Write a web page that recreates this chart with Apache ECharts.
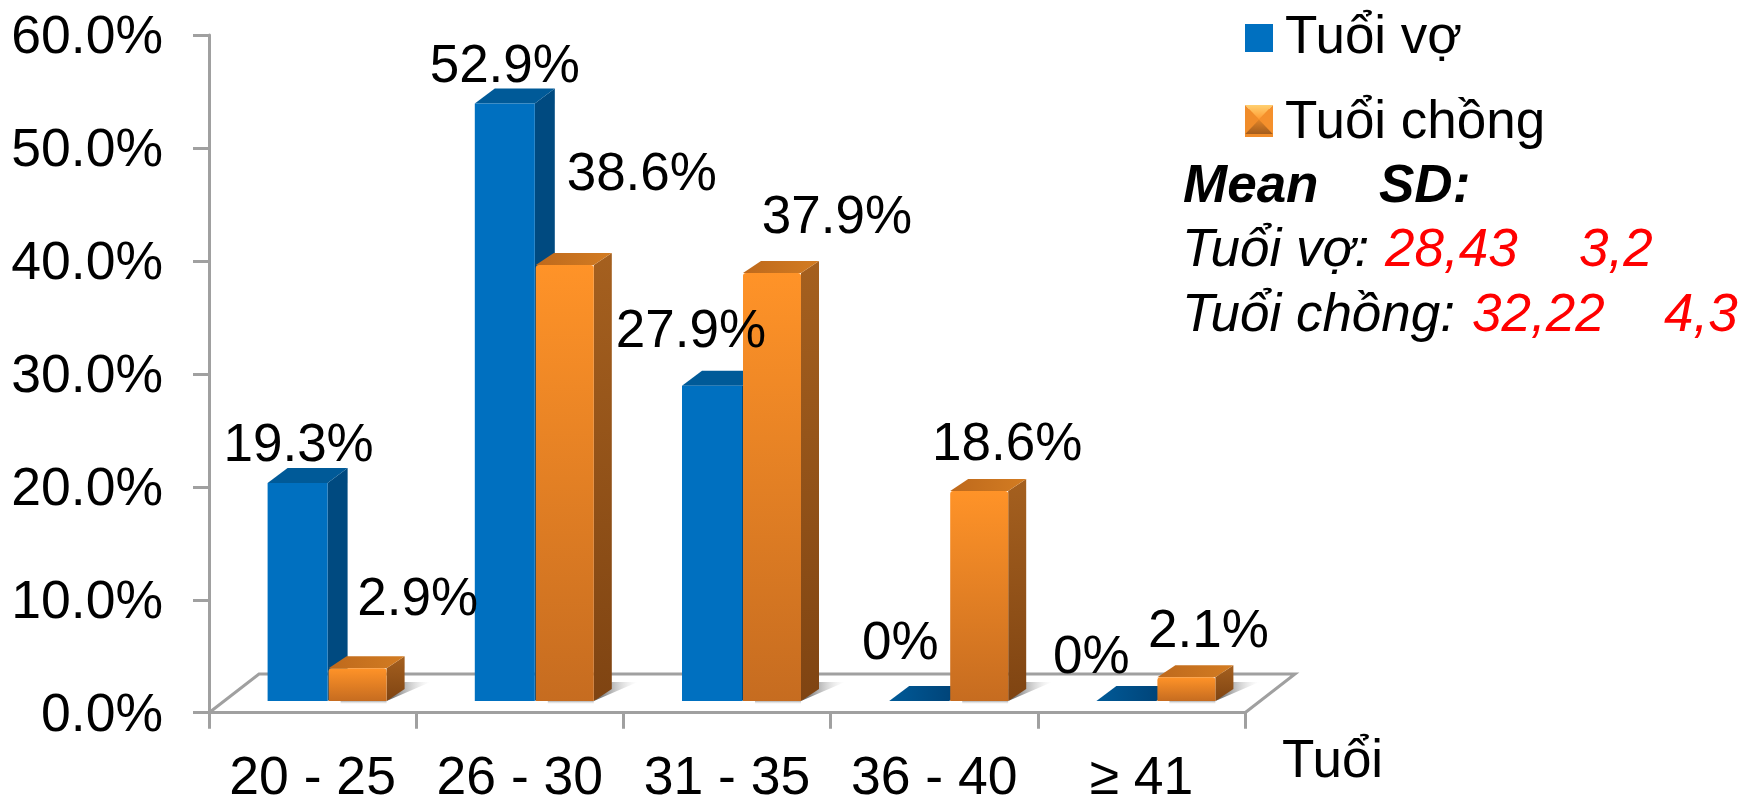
<!DOCTYPE html>
<html>
<head>
<meta charset="utf-8">
<style>html,body{margin:0;padding:0;background:#fff}#c{width:1754px;height:801px}</style>
<script src="https://cdn.jsdelivr.net/npm/echarts@6/dist/echarts.min.js"></script>
</head>
<body>
<div id="c"></div>
<script>
const categories = ['20 - 25', '26 - 30', '31 - 35', '36 - 40', '≥ 41'];
const tuoiVo = [19.3, 52.9, 27.9, 0, 0];
const tuoiChong = [2.9, 38.6, 37.9, 18.6, 2.1];
const seriesNames = ['Tuổi vợ', 'Tuổi chồng'];
const axisName = 'Tuổi';
// Hand-placed data-label offsets from each bar's top centre, as in the source slide
const wifeLabelOffset = [[1, -36.5], [0, -36.5], [-21, -53.5], [-19, -56.5], [-35, -42.5]];
const husbandLabelOffset = [[60, -67.5], [77, -89.5], [65, -54.5], [28, -45.5], [22, -44.5]];

const FONT = '"Liberation Sans", Arial, sans-serif';
const FS = 53;
const AXIS_FS = 53.5;
const INSET = [15, -11.7];      // bars stand inside the floor, not on its front edge
const FLOOR = [50, -38.7];      // depth of the floor
const GREY = '#A0A0A0';

const grad = (x, y, x2, y2, c1, c2) => ({type: 'linear', x, y, x2, y2, colorStops: [{offset: 0, color: c1}, {offset: 1, color: c2}]});

const palette = {
  wife: {front: '#0070C0', side: '#004A80', top: '#005A98', w: 60, dx: 20, dy: 15, shift: -60, r: 0},
  husband: {
    front: grad(0, 0, 0, 1, '#FF9328', '#C66C20'),
    side: grad(0, 0, 0, 1, '#A5601F', '#7F4412'),
    top: grad(0, 0, 1, 0, '#BE691C', '#D37C22'),
    w: 58, dx: 18, dy: 12, shift: 1, r: 3
  }
};

function barRenderer(kind, offsets) {
  return function (params, api) {
    const i = api.value(0), v = api.value(1);
    const base = api.coord([i, 0]), top = api.coord([i, v]);
    const c = palette[kind];
    const x0 = base[0] + INSET[0] + c.shift, x1 = x0 + c.w;
    const yb = base[1] + INSET[1], yt = top[1] + INSET[1];
    const kids = [];
    if (kind === 'husband') {
      kids.push({type: 'polygon', shape: {points: [[x1, yb], [x1 + c.dx, yb - 19], [x1 + c.dx + 26, yb - 19]]},
        style: {fill: grad(0, 0, 1, 0, 'rgba(70,70,70,0.95)', 'rgba(210,210,210,0)')}});
      kids.push({type: 'rect', shape: {x: x0 + 12, y: yb, width: c.w - 12, height: 3},
        style: {fill: grad(0, 0, 0, 1, 'rgba(120,120,120,0.6)', 'rgba(200,200,200,0)')}});
    }
    if (v > 0) {
      kids.push({type: 'polygon', shape: {points: [[x1, yb], [x1 + c.dx, yb - c.dy], [x1 + c.dx, yt - c.dy], [x1, yt]]}, style: {fill: c.side}});
    }
    kids.push({type: 'polygon', shape: {points: [[x0, yt], [x1, yt], [x1 + c.dx, yt - c.dy], [x0 + c.dx, yt - c.dy]]},
      style: {fill: v === 0 ? grad(0, 0, 1, 0, '#005A98', '#003E70') : c.top}});
    if (v > 0) {
      kids.push({type: 'rect', shape: {x: x0, y: yt, width: c.w, height: yb - yt, r: [c.r, c.r, 0, 0]}, style: {fill: c.front}});
    }
    const off = offsets[params.dataIndex];
    const cx = base[0] + INSET[0] + (kind === 'wife' ? -30 : 30);
    kids.push({type: 'text', z2: 100, style: {
      x: cx + off[0], y: yt + off[1],
      text: v === 0 ? '0%' : v.toFixed(1) + '%',
      font: FS + 'px ' + FONT, fill: '#000', align: 'center', verticalAlign: 'middle'}});
    return {type: 'group', children: kids};
  };
}

function floorRenderer(params) {
  const r = params.coordSys;
  const L = r.x, R = r.x + r.width, B = r.y + r.height;
  const st = {stroke: GREY, lineWidth: 3, fill: null};
  return {type: 'polyline', silent: true, shape: {points: [[L, B], [L + FLOOR[0], B + FLOOR[1]], [R + FLOOR[0], B + FLOOR[1]], [R, B]]}, style: st};
}

// Free text block at the top right (y is the text centre)
const notes = [
  {text: 'Mean', x: 1183, y: 187.5, font: 'italic bold ' + FS + 'px ' + FONT, fill: '#000'},
  {text: 'SD:', x: 1379, y: 187.5, font: 'italic bold ' + FS + 'px ' + FONT, fill: '#000'},
  {text: 'Tuổi vợ:', x: 1182, y: 251.5, font: 'italic ' + FS + 'px ' + FONT, fill: '#000'},
  {text: '28,43', x: 1385, y: 251.5, font: 'italic ' + FS + 'px ' + FONT, fill: '#FF0000'},
  {text: '3,2', x: 1579, y: 251.5, font: 'italic ' + FS + 'px ' + FONT, fill: '#FF0000'},
  {text: 'Tuổi chồng:', x: 1182, y: 316.5, font: 'italic ' + FS + 'px ' + FONT, fill: '#000'},
  {text: '32,22', x: 1472, y: 316.5, font: 'italic ' + FS + 'px ' + FONT, fill: '#FF0000'},
  {text: '4,3', x: 1664, y: 316.5, font: 'italic ' + FS + 'px ' + FONT, fill: '#FF0000'}
];

// Bevel on the orange legend swatch
const sw = {l: 1245, r: 1273, t: 105, b: 134, cx: 1259, cy: 119.5};
const bevel = [
  {pts: [[sw.l, sw.t], [sw.r, sw.t], [sw.cx, sw.cy]], fill: grad(0, 0, 0, 1, '#FFD070', '#FF9A30')},
  {pts: [[sw.l, sw.b], [sw.r, sw.b], [sw.cx, sw.cy]], fill: grad(0, 0, 0, 1, '#E08428', '#A35C1C')},
  {pts: [[sw.l, sw.t], [sw.l, sw.b], [sw.cx, sw.cy]], fill: '#F08C2A'},
  {pts: [[sw.r, sw.t], [sw.r, sw.b], [sw.cx, sw.cy]], fill: '#F5902C'}
];

const chart = echarts.init(document.getElementById('c'));
chart.setOption({
  animation: false,
  backgroundColor: '#fff',
  textStyle: {fontFamily: FONT},
  grid: {left: 209, top: 35, width: 1036, height: 677.7, containLabel: false, outerBoundsMode: 'none'},
  legend: {
    left: 1240, top: 6.5, orient: 'vertical', itemWidth: 28, itemHeight: 28, itemGap: 32,
    data: [{name: seriesNames[0], icon: 'rect'}, {name: seriesNames[1], icon: 'rect'}],
    textStyle: {fontSize: FS, color: '#000', fontFamily: FONT, padding: [0, 0, 0, 7]},
    selectedMode: false
  },
  xAxis: {
    type: 'category', data: categories,
    name: axisName, nameLocation: 'end', nameGap: 37,
    nameTextStyle: {fontSize: FS, color: '#000', fontFamily: FONT, verticalAlign: 'top', lineHeight: 100},
    axisLine: {lineStyle: {color: GREY, width: 3}},
    axisTick: {show: true, length: 16, alignWithLabel: false, lineStyle: {color: GREY, width: 3}},
    axisLabel: {fontSize: AXIS_FS, color: '#000', margin: 40, interval: 0, fontFamily: FONT},
    splitLine: {show: false}
  },
  yAxis: {
    type: 'value', min: 0, max: 60, interval: 10,
    axisLine: {show: true, lineStyle: {color: GREY, width: 3}},
    axisTick: {show: true, length: 16, lineStyle: {color: GREY, width: 3}},
    axisLabel: {fontSize: AXIS_FS, color: '#000', margin: 46, verticalAlign: 'top', lineHeight: 7, fontFamily: FONT, formatter: v => v.toFixed(1) + '%'},
    splitLine: {show: false}
  },
  graphic: [
    ...notes.map(n => ({type: 'text', z: 50, silent: true, style: {x: n.x, y: n.y, text: n.text, font: n.font, fill: n.fill, align: 'left', verticalAlign: 'middle'}})),
    ...bevel.map(b => ({type: 'polygon', z: 50, silent: true, shape: {points: b.pts}, style: {fill: b.fill}}))
  ],
  series: [
    {type: 'custom', name: 'floor', silent: true, z: 1, renderItem: floorRenderer, data: [[0, 0]], tooltip: {show: false}},
    {type: 'custom', name: seriesNames[0], z: 2, renderItem: barRenderer('wife', wifeLabelOffset),
      itemStyle: {color: '#0070C0'}, encode: {x: 0, y: 1}, data: tuoiVo.map((v, i) => [i, v])},
    {type: 'custom', name: seriesNames[1], z: 2, renderItem: barRenderer('husband', husbandLabelOffset),
      itemStyle: {color: '#F08C2A'}, encode: {x: 0, y: 1}, data: tuoiChong.map((v, i) => [i, v])}
  ]
});
</script>
</body>
</html>
